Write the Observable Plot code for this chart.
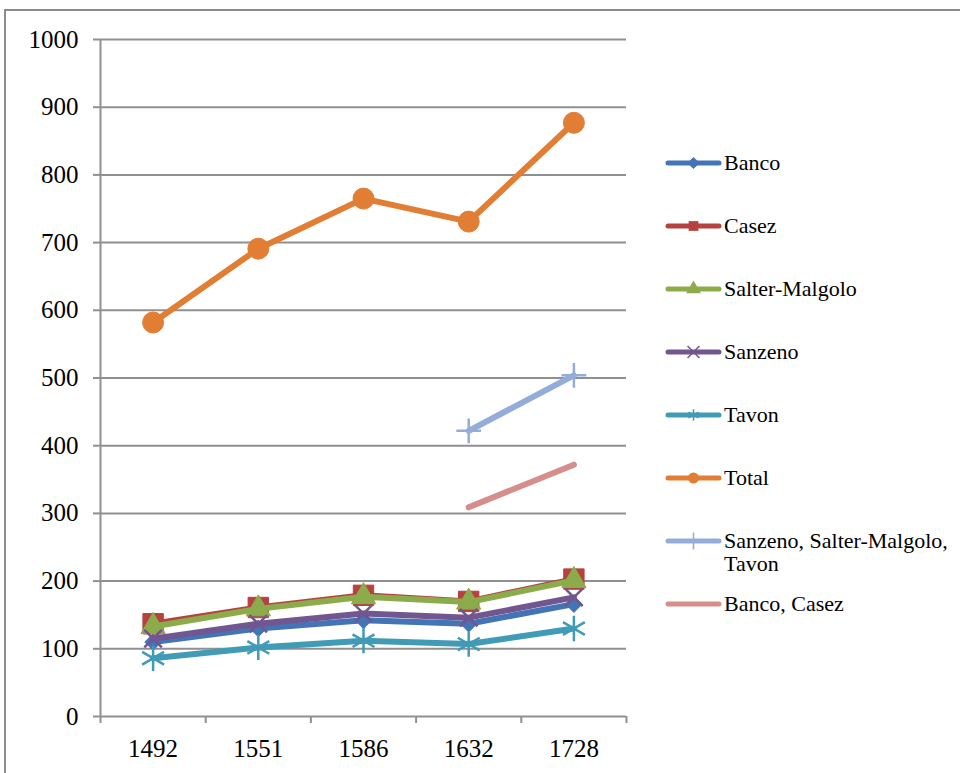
<!DOCTYPE html>
<html><head><meta charset="utf-8">
<script src="https://cdn.jsdelivr.net/npm/d3@7"></script>
<script src="https://cdn.jsdelivr.net/npm/@observablehq/plot@0.6"></script>
<style>
body{margin:0;background:#fff;}
#wrap{position:relative;width:960px;height:773px;overflow:hidden;font-family:"Liberation Serif","Times New Roman",serif;}
#frame{position:absolute;left:4px;top:9px;width:1000px;height:820px;border-left:2px solid #8c8c8c;border-top:2px solid #8c8c8c;}
#chart{position:absolute;left:0;top:0;}
.item{position:absolute;left:665px;display:flex;align-items:flex-start;}
.item span{font-size:22px;line-height:23px;width:235px;color:#000;margin-left:2px;margin-top:-1px;}
</style></head><body><div id="wrap"><div id="frame"></div><div id="chart"></div><div id="legend"></div></div>
<script>
const years = ["1492", "1551", "1586", "1632", "1728"];
const banco = [110, 130, 142, 137, 166];
const casez = [137, 161, 179, 170, 203];
const salter = [133, 159, 177, 169, 201];
const sanzeno = [115, 137, 152, 146, 176];
const tavon = [86, 102, 112, 107, 130];
const total = [582, 691, 765, 731, 877];
const sanzenoSalterTavon = [null, null, null, 422, 504];
const bancoCasez = [null, null, null, 309, 372];
const seriesNames = ["Banco", "Casez", "Salter-Malgolo", "Sanzeno", "Tavon", "Total", "Sanzeno, Salter-Malgolo, Tavon", "Banco, Casez"];
const seriesValues = [banco, casez, salter, sanzeno, tavon, total, sanzenoSalterTavon, bancoCasez];
const seriesColors = ["#4374B5", "#B5423F", "#8CAB4B", "#71568F", "#409BB6", "#E27D34", "#93ADD8", "#D68E8C"];
const seriesSymbols = ["diamond2", "square", "triangle", "times", "asterisk", "circle", "plus", null];
const symbolSizes = [7.5, 11.5, 9, 8, 12, 10.5, 8, 0];
const yTicks = d3.range(0, 1001, 100);

const strokeSymbols = new Set(["times", "asterisk", "plus"]);
const d3Symbols = {diamond2: d3.symbolDiamond2, square: d3.symbolSquare, triangle: d3.symbolTriangle, times: d3.symbolTimes, asterisk: d3.symbolAsterisk, circle: d3.symbolCircle, plus: d3.symbolPlus};
const grey = "#909090";

const marks = [
  Plot.gridY(yTicks, {stroke: grey, strokeOpacity: 1, strokeWidth: 2}),
  Plot.ruleX([0], {stroke: grey, strokeWidth: 2}),
  Plot.axisY({ticks: yTicks, tickSize: 7, tickPadding: 15, tickFormat: (d) => String(d), stroke: grey, strokeWidth: 2, fill: "#000", fontSize: 25, label: null}),
  Plot.axisX({ticks: d3.range(0, years.length + 1), tickSize: 7, tickFormat: () => "", stroke: grey, strokeWidth: 2, label: null}),
  Plot.axisX({ticks: years.map((y, i) => i + 0.5), tickSize: 0, tickPadding: 23, tickFormat: (d) => years[Math.floor(d)], fill: "#000", fontSize: 25, label: null})
];

seriesNames.forEach((name, s) => {
  const rows = years.map((yr, i) => ({x: i + 0.5, y: seriesValues[s][i]})).filter(d => d.y != null);
  marks.push(Plot.line(rows, {x: "x", y: "y", stroke: seriesColors[s], strokeWidth: 6, strokeLinejoin: "round", strokeLinecap: "round"}));
  const sym = seriesSymbols[s];
  if (sym) {
    if (strokeSymbols.has(sym)) {
      marks.push(Plot.dot(rows, {x: "x", y: "y", symbol: () => sym, r: symbolSizes[s], stroke: seriesColors[s], strokeWidth: 2.5, fill: "none"}));
    } else {
      marks.push(Plot.dot(rows, {x: "x", y: "y", symbol: () => sym, r: symbolSizes[s], fill: seriesColors[s], stroke: seriesColors[s], strokeWidth: 1}));
    }
  }
});

const chart = Plot.plot({
  width: 960, height: 773,
  marginLeft: 100, marginRight: 334, marginTop: 39, marginBottom: 57,
  x: {domain: [0, years.length], axis: null},
  y: {domain: [0, 1000], axis: null},
  symbol: {type: "identity"},
  style: {fontFamily: "'Liberation Serif','Times New Roman',serif", fontSize: "25px", background: "transparent", color: "#000"},
  marks
});
document.getElementById("chart").appendChild(chart);

const legend = document.getElementById("legend");
seriesNames.forEach((name, s) => {
  const item = document.createElement("div");
  item.className = "item";
  item.style.top = (152 + s * 63) + "px";
  const svg = d3.create("svg").attr("width", 57).attr("height", 22);
  svg.append("line").attr("x1", 3).attr("x2", 54).attr("y1", 11).attr("y2", 11)
    .attr("stroke", seriesColors[s]).attr("stroke-width", 5).attr("stroke-linecap", "round");
  const sym = seriesSymbols[s];
  if (sym) {
    const p = svg.append("path").attr("transform", "translate(28.5,11)")
      .attr("d", d3.symbol(d3Symbols[sym], Math.PI * 5.5 * 5.5)());
    if (strokeSymbols.has(sym)) p.attr("stroke", seriesColors[s]).attr("fill", "none").attr("stroke-width", 1.5);
    else p.attr("fill", seriesColors[s]);
  }
  item.appendChild(svg.node());
  const span = document.createElement("span");
  span.textContent = name;
  item.appendChild(span);
  legend.appendChild(item);
});
</script></body></html>
